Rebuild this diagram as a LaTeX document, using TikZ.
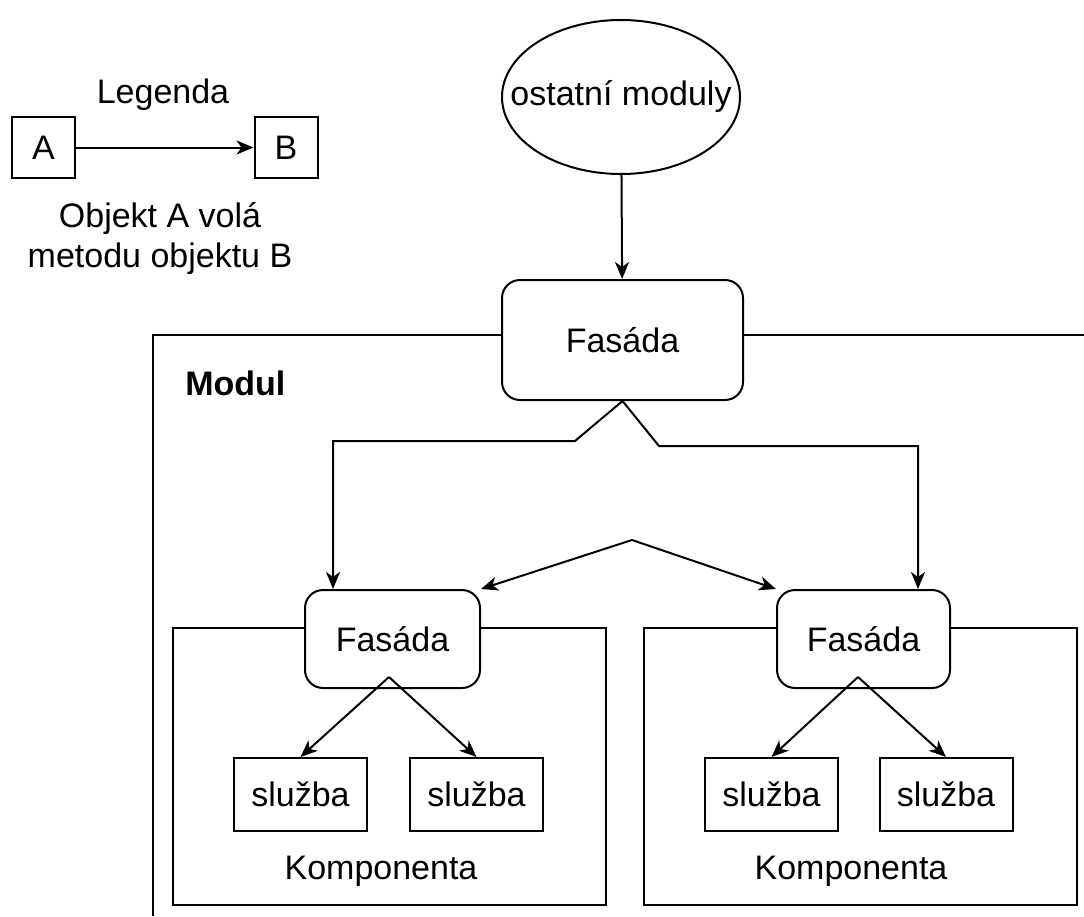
\documentclass[tikz,border=0pt]{standalone}
\usepackage{fontspec}
\setmainfont{Liberation Sans}
\usetikzlibrary{arrows.meta,shapes.geometric}

\begin{document}
\begin{tikzpicture}[x=1pt, y=-1pt, line width=2pt,
  every node/.style={font=\fontsize{34}{40}\selectfont},
  arr/.style={-{Stealth[length=17pt, width=14pt, inset=5pt]}},
  obj/.style={draw, minimum width=133pt, minimum height=73pt, inner sep=0pt},
  legbox/.style={draw, minimum width=63pt, minimum height=61pt, inner sep=0pt},
  fas/.style={draw, fill=white, rounded corners=18pt, inner sep=0pt},
  komp/.style={draw, minimum width=433pt, minimum height=277pt, inner sep=0pt}]
\useasboundingbox (0,0) rectangle (1084,916);
% legenda
\node (leg) at (163,95) {Legenda};
\node[legbox] (A) at (43.5,147.5) {A};
\node[legbox] (B) at (286,147.5) {B};
\node[align=center] (legtxt) at (160,239) {Objekt A volá\\metodu objektu B};
\draw[arr] (A) -- (B);
% modul
\draw (153,916) -- (153,335) -- (1084,335);
\node[font=\fontsize{34}{40}\selectfont\bfseries, anchor=west] (modul) at (181,383) {Modul};
\node[draw, ellipse, minimum width=238pt, minimum height=154pt, inner sep=0pt,
  label={center:ostatní moduly}] (om) at (621,97) {};
\node[fas, minimum width=241pt, minimum height=120pt] (F0) at (622.5,340) {Fasáda};
% komponenty
\node[komp] (K1) at (389,766.5) {};
\node[komp] (K2) at (860.5,766.5) {};
\node (k1txt) at (381,871) {Komponenta};
\node (k2txt) at (851,871) {Komponenta};
\node[fas, minimum width=175pt, minimum height=98pt] (F1) at (392.5,639) {Fasáda};
\node[fas, minimum width=173pt, minimum height=98pt] (F2) at (863.5,639) {Fasáda};
\node[obj] (S11) at (300.5,794.5) {služba};
\node[obj] (S12) at (476.5,794.5) {služba};
\node[obj] (S21) at (771.5,794.5) {služba};
\node[obj] (S22) at (946,794.5) {služba};
% volani
\coordinate (l1) at (333,441);
\coordinate (r1) at (918,446);
\coordinate (mid) at (632,540);
\coordinate (f1b) at (389,677);
\coordinate (f2b) at (858,677);
\draw[arr] (om) -- (F0);
\draw[arr] (F0.south) -- (575,441) -- (l1) -- (l1 |- F1.north);
\draw[arr] (F0.south) -- (659,446) -- (r1) -- (r1 |- F2.north);
\draw[arr] (mid) -- (F1.north east);
\draw[arr] (mid) -- (F2.north west);
\draw[arr] (f1b) -- (S11.north);
\draw[arr] (f1b) -- (S12.north);
\draw[arr] (f2b) -- (S21.north);
\draw[arr] (f2b) -- (S22.north);
\end{tikzpicture}
\end{document}
